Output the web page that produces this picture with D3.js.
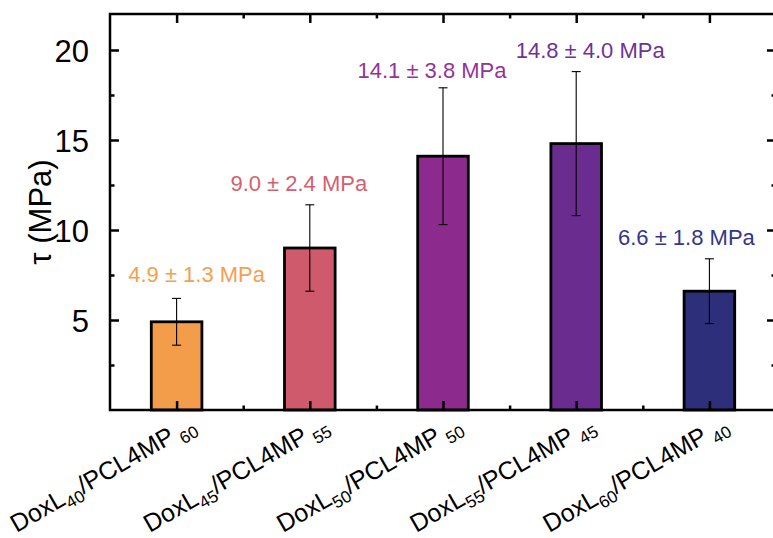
<!DOCTYPE html>
<html>
<head>
<meta charset="utf-8">
<script src="https://cdn.jsdelivr.net/npm/d3@7"></script>
<style>
  html, body { margin: 0; padding: 0; background: #fff; }
  svg { display: block; }
  text { font-family: Arial, "Liberation Sans", sans-serif; }
</style>
</head>
<body>
<svg id="chart" width="773" height="538"></svg>
<script>
// ---- data ----
const categories = ["DoxL40/PCL4MP60", "DoxL45/PCL4MP55", "DoxL50/PCL4MP50", "DoxL55/PCL4MP45", "DoxL60/PCL4MP40"];
const doxSub = ["40", "45", "50", "55", "60"];
const pclSub = ["60", "55", "50", "45", "40"];
const values = [4.9, 9.0, 14.1, 14.8, 6.6];
const errors = [1.3, 2.4, 3.8, 4.0, 1.8];
const valueLabels = ["4.9 \u00b1 1.3 MPa", "9.0 \u00b1 2.4 MPa", "14.1 \u00b1 3.8 MPa", "14.8 \u00b1 4.0 MPa", "6.6 \u00b1 1.8 MPa"];
const yTicks = [5, 10, 15, 20];
const yMinorTicks = [2.5, 7.5, 12.5, 17.5];

// ---- styles / layout ----
const barColors = ["#F39D4A", "#CF5A6C", "#8C2A8E", "#6B2C90", "#2D2F7B"];
const labelColors = ["#F5A04E", "#D35F70", "#93339B", "#6E3399", "#33368A"];
const labelDx = [20, -11, -11, 14, -23];   // pixel offsets of value labels from bar centre
const labelDy = [-16, -14, -10, -14, -14]; // pixel offsets of value label baselines above error caps

const svg = d3.select("#chart");
const L = 110, R = 776, T = 14, B = 410;

const x = d3.scaleBand().domain(categories).range([L, R]).padding(0);
const y = d3.scaleLinear().domain([0, 22]).range([B, T]);
const bw = x.bandwidth();
const barW = bw * 0.38;

const data = categories.map((c, i) => ({c, i, v: values[i], e: errors[i]}));

// bars
svg.append("g").selectAll("rect").data(data).join("rect")
  .attr("x", d => x(d.c) + bw / 2 - barW / 2)
  .attr("y", d => y(d.v))
  .attr("width", barW)
  .attr("height", d => y(0) - y(d.v))
  .attr("fill", d => barColors[d.i])
  .attr("stroke", "#000")
  .attr("stroke-width", 2.8);

// error bars
const eg = svg.append("g").attr("stroke", "#000").attr("stroke-width", 1.1);
data.forEach(d => {
  const cx = x(d.c) + bw / 2;
  eg.append("line").attr("x1", cx).attr("x2", cx).attr("y1", y(d.v - d.e)).attr("y2", y(d.v + d.e));
  eg.append("line").attr("x1", cx - 4.5).attr("x2", cx + 4.5).attr("y1", y(d.v - d.e)).attr("y2", y(d.v - d.e));
  eg.append("line").attr("x1", cx - 4.5).attr("x2", cx + 4.5).attr("y1", y(d.v + d.e)).attr("y2", y(d.v + d.e));
});

// value labels
svg.append("g").selectAll("text").data(data).join("text")
  .attr("x", d => x(d.c) + bw / 2 + labelDx[d.i])
  .attr("y", d => y(d.v + d.e) + labelDy[d.i])
  .attr("text-anchor", "middle")
  .attr("font-size", 22)
  .attr("fill", d => labelColors[d.i])
  .text(d => valueLabels[d.i]);

// axes
const major = 9, minor = 4.5, aw = 2.5;
const yAxisL = d3.axisLeft(y).tickValues(yTicks).tickSizeInner(-major).tickSizeOuter(0).tickPadding(12 + major);
const gL = svg.append("g").attr("transform", `translate(${L},0)`).call(yAxisL);
gL.selectAll("text").attr("font-size", 31).attr("fill", "#000").attr("dy", "0.36em");
gL.selectAll("line").attr("stroke-width", aw);
gL.select(".domain").remove();
const gLm = svg.append("g").attr("transform", `translate(${L},0)`)
  .call(d3.axisLeft(y).tickValues(yMinorTicks).tickSizeInner(-minor).tickSizeOuter(0).tickFormat(""));
gLm.selectAll("line").attr("stroke-width", aw); gLm.select(".domain").remove();

const gR = svg.append("g").attr("transform", `translate(${R},0)`)
  .call(d3.axisRight(y).tickValues(yTicks).tickSizeInner(-major).tickSizeOuter(0).tickFormat(""));
gR.selectAll("line").attr("stroke-width", aw); gR.select(".domain").remove();
const gRm = svg.append("g").attr("transform", `translate(${R},0)`)
  .call(d3.axisRight(y).tickValues(yMinorTicks).tickSizeInner(-minor).tickSizeOuter(0).tickFormat(""));
gRm.selectAll("line").attr("stroke-width", aw); gRm.select(".domain").remove();

// bottom & top: major ticks at centres, minor at band boundaries
const centres = categories.map(c => x(c) + bw / 2);
const bounds = categories.slice(1).map(c => x(c));
const xc = d3.scaleIdentity().domain([L, R]);
[[B, major, centres], [B, minor, bounds]].forEach(([yy, len, vals]) => {
  const g = svg.append("g").attr("transform", `translate(0,${yy})`)
    .call(d3.axisBottom(xc).tickValues(vals).tickSizeInner(-len).tickSizeOuter(0).tickFormat(""));
  g.selectAll("line").attr("stroke-width", aw); g.select(".domain").remove();
});
[[T, major, centres], [T, minor, bounds]].forEach(([yy, len, vals]) => {
  const g = svg.append("g").attr("transform", `translate(0,${yy})`)
    .call(d3.axisTop(xc).tickValues(vals).tickSizeInner(-len).tickSizeOuter(0).tickFormat(""));
  g.selectAll("line").attr("stroke-width", aw); g.select(".domain").remove();
});

// frame
svg.append("rect").attr("x", L).attr("y", T).attr("width", R - L).attr("height", B - T)
  .attr("fill", "none").attr("stroke", "#000").attr("stroke-width", aw);

// rotated category labels
const xl = svg.append("g");
data.forEach(d => {
  const t = xl.append("text")
    .attr("transform", `translate(${x(d.c) + bw / 2 + 20},${B + 19}) rotate(-30)`)
    .attr("text-anchor", "end")
    .attr("font-size", 25)
    .attr("fill", "#000");
  t.append("tspan").text("DoxL");
  t.append("tspan").attr("font-size", 17).attr("dy", 6).text(doxSub[d.i]);
  t.append("tspan").attr("dy", -6).text("/PCL4MP");
  t.append("tspan").attr("font-size", 17).attr("dy", 7).text("\u00a0" + pclSub[d.i]);
});

// y title
svg.append("text")
  .attr("transform", `translate(51,${(T + B) / 2}) rotate(-90)`)
  .attr("text-anchor", "middle")
  .attr("font-size", 31)
  .attr("fill", "#000")
  .text("\u03c4 (MPa)");
</script>
</body>
</html>
